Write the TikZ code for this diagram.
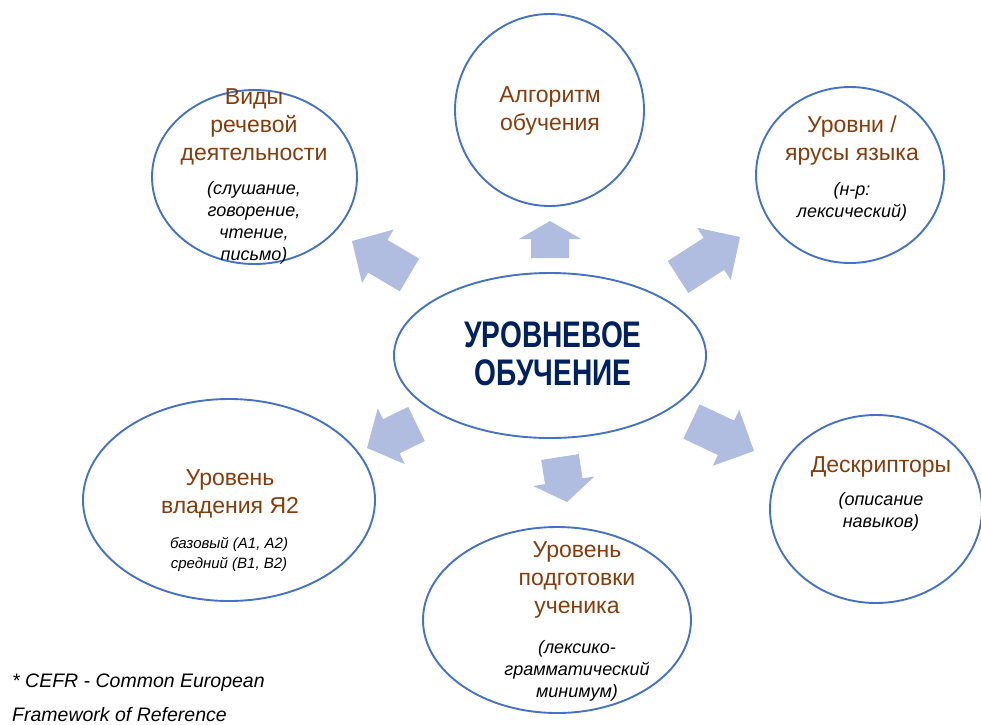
\documentclass[tikz,border=0pt]{standalone}
\usepackage{fontspec}
\usepackage{graphicx}
\setmainfont{Liberation Sans}
\usetikzlibrary{shapes.geometric,calc}
\definecolor{ringblue}{RGB}{68,114,196}
\definecolor{arrowblue}{RGB}{176,189,224}
\definecolor{headbrown}{RGB}{132,60,12}
\definecolor{titlenavy}{RGB}{0,32,96}
\tikzset{
  ring/.style={draw=ringblue, line width=1.9pt, ellipse, inner sep=0pt},
  headtxt/.style={text=headbrown, align=center, inner sep=0pt, anchor=base,
    font=\fontsize{23}{28}\selectfont},
  subtxt/.style={text=black, align=center, inner sep=0pt, anchor=base,
    font=\fontsize{18}{21.7}\selectfont\itshape},
  smalltxt/.style={text=black, align=center, inner sep=0pt, anchor=base,
    font=\fontsize{15}{20}\selectfont\itshape},
  titletxt/.style={text=titlenavy, align=center, inner sep=0pt, anchor=base,
    font=\fontsize{37}{38}\selectfont\bfseries},
  notetxt/.style={text=black, align=left, inner sep=0pt, anchor=base west,
    font=\fontsize{19.5}{34}\selectfont\itshape},
  arrowfill/.style={fill=arrowblue, draw=none}
}
\newcommand\blockarr[3]{%
  \coordinate (hb) at ($(#2)!#3!(#1)$);
  \fill[arrowfill] ($(#1)!19pt!90:(#2)$) -- ($(hb)!19pt!-90:(#1)$)
    -- ($(hb)!31pt!-90:(#1)$) -- (#2) -- ($(hb)!31pt!90:(#1)$)
    -- ($(hb)!19pt!90:(#1)$) -- ($(#1)!19pt!-90:(#2)$) -- cycle;}
\newcommand\cz[1]{\scalebox{0.76}[1]{#1}}
\begin{document}
\begin{tikzpicture}[x=1pt,y=-1pt]
\useasboundingbox (0,0) rectangle (981,724);
\clip (0,0) rectangle (981,724);
% ellipses
\node[ring, minimum width=205pt, minimum height=174pt] (vidy) at (254.5,177) {};
\node[ring, minimum width=189pt, minimum height=192pt] (algo) at (549.5,110) {};
\node[ring, minimum width=188pt, minimum height=176pt] (urovni) at (850,175) {};
\node[ring, minimum width=312pt, minimum height=165pt] (center) at (550,355.5) {};
\node[ring, minimum width=292pt, minimum height=202pt] (vlad) at (229,500) {};
\node[ring, minimum width=268pt, minimum height=186pt] (podg) at (557,620) {};
\node[ring, minimum width=212pt, minimum height=188pt] (deskr) at (876,509) {};
% arrows
\coordinate (ulB) at (409.5,275); \coordinate (ulT) at (352,241);
\coordinate (upB) at (550,258);   \coordinate (upT) at (550,221);
\coordinate (urB) at (678,277);   \coordinate (urT) at (740,237);
\coordinate (llB) at (416.5,424); \coordinate (llT) at (367,448);
\coordinate (lrB) at (691.5,421.5); \coordinate (lrT) at (754,451);
\coordinate (dnB) at (560,457);   \coordinate (dnT) at (567,502);
\blockarr{ulB}{ulT}{30pt}
\blockarr{upB}{upT}{18pt}
\blockarr{urB}{urT}{31pt}
\blockarr{llB}{llT}{27pt}
\blockarr{lrB}{lrT}{31pt}
\blockarr{dnB}{dnT}{21pt}
% texts (anchor base = baseline of the last line)
\node[headtxt] (vidyH) at (254,160) {Виды\\речевой\\деятельности};
\node[subtxt] (vidyS) at (254,260) {(слушание,\\говорение,\\чтение,\\письмо)};
\node[headtxt] (algoH) at (550,130) {Алгоритм\\обучения};
\node[headtxt] (urovniH) at (852,160) {Уровни /\\ярусы языка};
\node[subtxt] (urovniS) at (852,217) {(н-р:\\лексический)};
\node[titletxt] (centerT) at (553,385) {\cz{УРОВНЕВОЕ}\\\cz{ОБУЧЕНИЕ}};
\node[headtxt] (vladH) at (230,513) {Уровень\\владения Я2};
\node[smalltxt] (vladS) at (229,568) {базовый (A1, A2)\\средний (B1, B2)};
\node[headtxt] (podgH) at (577,613) {Уровень\\подготовки\\ученика};
\node[subtxt] (podgS) at (577,697) {(лексико-\\грамматический\\минимум)};
\node[headtxt] (deskrH) at (881,472) {Дескрипторы};
\node[subtxt] (deskrS) at (881,527) {(описание\\навыков)};
\node[notetxt] (note) at (12,721) {* CEFR - Common European\\Framework of Reference};
\end{tikzpicture}
\end{document}
